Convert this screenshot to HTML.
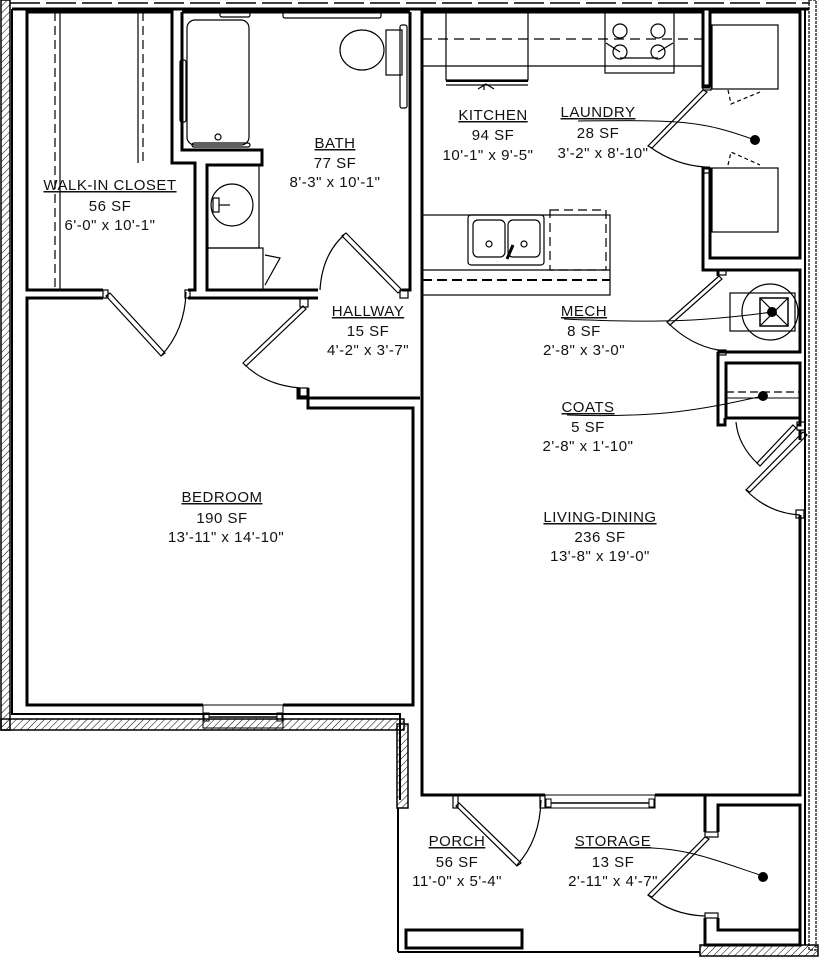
<!DOCTYPE html>
<html><head><meta charset="utf-8"><style>
html,body{margin:0;padding:0;background:#fff;}
svg{display:block}
text{font-family:"Liberation Sans",sans-serif;font-size:15px;fill:#111;text-anchor:middle;letter-spacing:0.5px}
</style></head><body>
<svg width="819" height="960" viewBox="0 0 819 960" xmlns="http://www.w3.org/2000/svg">
<defs>
<pattern id="h" width="5" height="5" patternUnits="userSpaceOnUse" patternTransform="rotate(45)">
<line x1="0" y1="0" x2="0" y2="5" stroke="#000" stroke-width="1"/></pattern>
</defs>
<rect width="819" height="960" fill="#fff"/>
<g fill="none" stroke="#000">
<rect x="1" y="0" width="9" height="730" fill="url(#h)" stroke-width="1.5"/>
<rect x="1" y="719" width="403" height="11" fill="url(#h)" stroke-width="1.5"/>
<rect x="397" y="724" width="11" height="84" fill="url(#h)" stroke-width="1.5"/>
<rect x="700" y="945" width="118" height="11" fill="url(#h)" stroke-width="1.5"/>
<rect x="809" y="0" width="7" height="950" stroke-width="1.2" stroke-dasharray="3 1"/>
<line x1="10" y1="3" x2="810" y2="3" stroke-width="1.5" stroke-dasharray="30 6"/>
<line x1="12" y1="9" x2="809" y2="9" stroke-width="3"/>
<polyline points="12,9 12,714 400,714 400,800" stroke-width="2"/>
<line x1="398" y1="808" x2="398" y2="952" stroke-width="2"/>
<line x1="398" y1="952" x2="700" y2="952" stroke-width="2"/>
<line x1="805" y1="9" x2="805" y2="945" stroke-width="2"/>

<g stroke-width="3">
<polyline points="103,290 27,290 27,12 172,12 172,163 195,163 195,290 188,290"/>
<polyline points="182,12 182,150 262,150 262,165 207,165 207,290 318,290"/>
<polyline points="410,12 410,290 402,290"/>
<line x1="182" y1="12" x2="410" y2="12"/>
<polyline points="422,298 422,12 703,12 703,87 710,87"/>
<polyline points="710,168 703,168 703,270 800,270 800,352 718,352"/>
<polyline points="710,87 710,12 800,12 800,258 710,258 710,168"/>
<line x1="718" y1="270" x2="718" y2="276"/>
<polyline points="718,352 718,425 725,425 725,418"/>
<rect x="726" y="363" width="74" height="55"/>
<polyline points="800,418 800,425 797,425"/>
<polyline points="800,430 800,440"/>
<polyline points="800,515 800,795 655,795"/>
<polyline points="545,795 453,795"/>
<polyline points="422,298 422,795 453,795"/>
<polyline points="700,795 705,795 705,832"/>
<polyline points="705,918 705,945 800,945 800,805 718,805 718,832"/>
<polyline points="718,918 718,930 800,930"/>
<polyline points="655,795 655,795 700,795"/>
<polyline points="103,298 27,298 27,705 203,705"/>
<polyline points="283,705 413,705 413,408 308,408 308,388"/>
<polyline points="188,298 318,298"/>
<polyline points="298,388 298,398 420,398"/>
<polyline points="203,714 12,714" stroke-width="2"/>
</g>
<rect x="203" y="705" width="80" height="23" stroke-width="1"/>
<line x1="209" y1="717" x2="277" y2="717" stroke-width="1.5"/>
<rect x="204" y="713" width="5" height="8" stroke-width="1"/><rect x="277" y="713" width="5" height="8" stroke-width="1"/>
<rect x="545" y="795" width="110" height="13" stroke-width="1"/>
<line x1="551" y1="803" x2="649" y2="803" stroke-width="1.5"/>
<rect x="546" y="799" width="5" height="8" stroke-width="1"/><rect x="649" y="799" width="5" height="8" stroke-width="1"/>
<rect x="406" y="930" width="116" height="18" stroke-width="3"/>

<g stroke-width="1.2">
<rect x="103" y="290" width="5" height="8"/><rect x="185" y="290" width="5" height="8"/>
<polygon points="106,296 110,293 165,353 161,356"/>
<path d="M161,356 Q185,330 186,292"/>
<rect x="400" y="290" width="8" height="8"/>
<polygon points="402,290 398,293 342,236 346,233"/>
<path d="M344,235 Q322,255 320,290"/>
<rect x="300" y="299" width="8" height="8"/>
<polygon points="303,306 306,309 246,366 243,363"/>
<path d="M244,364 Q265,385 300,388"/>
<rect x="300" y="388" width="8" height="8"/>
<polygon points="703,90 707,92 652,148 648,146"/>
<path d="M650,147 Q675,165 705,167"/>
<rect x="703" y="85" width="8" height="5"/><rect x="703" y="168" width="8" height="5"/>
<path d="M728,90 L731,104 L760,92" stroke-dasharray="4 3"/>
<path d="M728,165 L731,152 L760,165" stroke-dasharray="4 3"/>
<rect x="712" y="25" width="66" height="64"/>
<rect x="712" y="168" width="66" height="64"/>
<rect x="718" y="270" width="8" height="5"/><rect x="718" y="350" width="8" height="5"/>
<polygon points="719,276 722,279 670,325 667,322"/>
<path d="M667,322 Q690,345 718,350"/>
<rect x="730" y="293" width="65" height="38"/>
<circle cx="770" cy="312" r="28"/>
<rect x="760" y="298" width="28" height="28" stroke-width="1.5"/>
<path d="M760,298 L788,326 M788,298 L760,326"/>
<polygon points="793,425 796,428 760,466 757,463"/>
<path d="M758,464 Q738,445 736,422"/>
<polygon points="803,432 807,435 750,492 746,490"/>
<path d="M746,490 Q768,513 800,515"/>
<rect x="797" y="422" width="8" height="8"/><rect x="796" y="510" width="8" height="8"/>
<rect x="453" y="795" width="5" height="13"/><rect x="540" y="795" width="5" height="13"/>
<polygon points="456,806 459,803 521,863 517,866"/>
<path d="M517,865 Q540,840 541,800"/>
<rect x="705" y="832" width="13" height="5"/><rect x="705" y="913" width="13" height="5"/>
<polygon points="705,837 709,839 652,897 648,895"/>
<path d="M648,895 Q672,915 705,916"/>
</g>
<path d="M726,392 H800" stroke-width="1.3" stroke-dasharray="8 4"/>
<line x1="726" y1="398" x2="800" y2="398" stroke-width="1"/>

<g stroke-width="1.2">
<line x1="55" y1="12" x2="55" y2="290" stroke-dasharray="9 5"/>
<line x1="60" y1="12" x2="60" y2="290"/>
<line x1="138" y1="12" x2="138" y2="163"/>
<line x1="143" y1="12" x2="143" y2="163" stroke-dasharray="9 5"/>
</g>
<g stroke-width="1.2">
<rect x="187" y="20" width="62" height="125" rx="8"/>
<rect x="180" y="60" width="6" height="62" rx="2"/>
<rect x="192" y="143" width="58" height="4" rx="2"/>
<circle cx="218" cy="137" r="3"/>
<rect x="220" y="12" width="30" height="5" rx="2"/>
<rect x="283" y="12" width="98" height="6" rx="2"/>
<rect x="400" y="25" width="7" height="83" rx="2"/>
<rect x="386" y="30" width="16" height="45"/>
<ellipse cx="362" cy="50" rx="22" ry="20"/>
<rect x="207" y="165" width="52" height="83"/>
<circle cx="232" cy="205" r="21"/>
<rect x="213" y="198" width="6" height="14"/>
<line x1="219" y1="205" x2="230" y2="205"/>
<rect x="207" y="248" width="56" height="42"/>
<path d="M265,255 L280,258 L265,285"/>
</g>
<g stroke-width="1.2">
<line x1="422" y1="66" x2="703" y2="66"/>
<line x1="422" y1="39" x2="703" y2="39" stroke-dasharray="10 6"/>
<rect x="446" y="12" width="82" height="68"/>
<line x1="446" y1="81" x2="528" y2="81" stroke-width="2"/>
<line x1="446" y1="85" x2="528" y2="85"/>
<path d="M478,89 l8,-5 l8,5 M484,84 l0,6"/>
<rect x="605" y="12" width="69" height="61"/>
<circle cx="620" cy="31" r="7"/><circle cx="658" cy="31" r="7"/>
<circle cx="620" cy="52" r="7"/><circle cx="658" cy="52" r="7"/>
<path d="M606,43 L620,52 M673,43 L658,52 M620,58 H658"/>
<rect x="422" y="215" width="188" height="80"/>
<line x1="422" y1="270" x2="610" y2="270"/>
<line x1="422" y1="280" x2="610" y2="280" stroke-dasharray="10 5" stroke-width="2"/>
<rect x="468" y="215" width="76" height="50" rx="3"/>
<rect x="473" y="220" width="32" height="37" rx="5"/><rect x="508" y="220" width="32" height="37" rx="5"/>
<circle cx="489" cy="244" r="3"/><circle cx="524" cy="244" r="3"/>
<line x1="507" y1="259" x2="513" y2="245" stroke-width="3"/>
<rect x="550" y="210" width="56" height="60" stroke-dasharray="9 5"/>
</g>
</g>

<g fill="none" stroke="#000" stroke-width="1">
<path d="M578,121 C680,120 700,120 755,140"/>
<path d="M564,319 C650,323 700,322 772,312"/>
<path d="M567,415 C660,418 700,410 763,396"/>
<path d="M613,848 C680,845 700,855 763,876"/>
</g>
<g fill="#000">
<circle cx="755" cy="140" r="5"/><circle cx="772" cy="312" r="5"/>
<circle cx="763" cy="396" r="5"/><circle cx="763" cy="877" r="5"/>
</g>

<g>
<text x="110" y="190" text-decoration="underline">WALK-IN CLOSET</text>
<text x="110" y="211">56 SF</text><text x="110" y="230">6'-0" x 10'-1"</text>
<text x="335" y="148" text-decoration="underline">BATH</text>
<text x="335" y="168">77 SF</text><text x="335" y="187">8'-3" x 10'-1"</text>
<text x="368" y="316" text-decoration="underline">HALLWAY</text>
<text x="368" y="336">15 SF</text><text x="368" y="355">4'-2" x 3'-7"</text>
<text x="493" y="120" text-decoration="underline">KITCHEN</text>
<text x="493" y="140">94 SF</text><text x="488" y="160">10'-1" x 9'-5"</text>
<text x="598" y="117" text-decoration="underline">LAUNDRY</text>
<text x="598" y="138">28 SF</text><text x="603" y="158">3'-2" x 8'-10"</text>
<text x="584" y="316" text-decoration="underline">MECH</text>
<text x="584" y="336">8 SF</text><text x="584" y="355">2'-8" x 3'-0"</text>
<text x="588" y="412" text-decoration="underline">COATS</text>
<text x="588" y="432">5 SF</text><text x="588" y="451">2'-8" x 1'-10"</text>
<text x="222" y="502" text-decoration="underline">BEDROOM</text>
<text x="222" y="523">190 SF</text><text x="226" y="542">13'-11" x 14'-10"</text>
<text x="600" y="522" text-decoration="underline">LIVING-DINING</text>
<text x="600" y="542">236 SF</text><text x="600" y="561">13'-8" x 19'-0"</text>
<text x="457" y="846" text-decoration="underline">PORCH</text>
<text x="457" y="867">56 SF</text><text x="457" y="886">11'-0" x 5'-4"</text>
<text x="613" y="846" text-decoration="underline">STORAGE</text>
<text x="613" y="867">13 SF</text><text x="613" y="886">2'-11" x 4'-7"</text>
</g>
</svg>
</body></html>
